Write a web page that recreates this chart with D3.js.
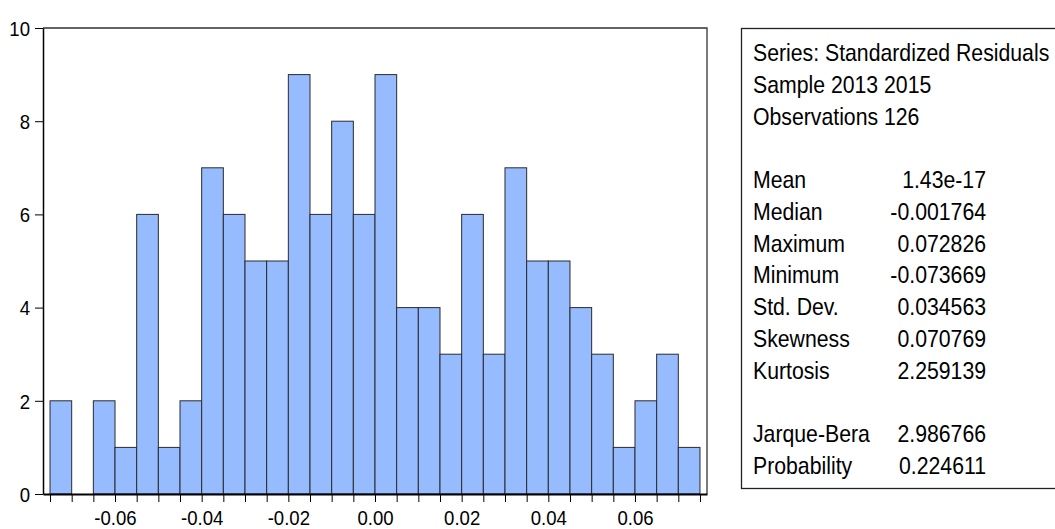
<!DOCTYPE html>
<html>
<head>
<meta charset="utf-8">
<script src="https://cdn.jsdelivr.net/npm/d3@7"></script>
<style>
  body { margin: 0; background: #fff; }
  svg { display: block; font-family: "Liberation Sans", Arial, sans-serif; }
</style>
</head>
<body>
<svg id="chart" width="1055" height="529"></svg>
<script>
// histogram bins (width 0.005, first edge -0.075)
const binStart = -0.075;
const binWidth = 0.005;
const counts = [2, 0, 2, 1, 6, 1, 2, 7, 6, 5, 5, 9, 6, 8, 6,
                9, 4, 4, 3, 6, 3, 7, 5, 5, 4, 3, 1, 2, 3, 1];

const xTickValues = [-0.06, -0.04, -0.02, 0, 0.02, 0.04, 0.06];
const xTickLabels = ["-0.06", "-0.04", "-0.02", "0.00", "0.02", "0.04", "0.06"];
const yTickValues = [0, 2, 4, 6, 8, 10];

// stats box text
const headerLines = ["Series: Standardized Residuals", "Sample 2013 2015", "Observations 126"];
const statLabels = ["Mean", "Median", "Maximum", "Minimum", "Std. Dev.", "Skewness", "Kurtosis",
                    "", "Jarque-Bera", "Probability"];
const statValues = ["1.43e-17", "-0.001764", "0.072826", "-0.073669", "0.034563", "0.070769", "2.259139",
                    "", "2.986766", "0.224611"];

const sx = 0.885; // horizontal squeeze of the glyphs
const fontName = '"Liberation Sans", Arial, sans-serif';

const svg = d3.select("#chart");

const plotLeft = 43, plotRight = 707, plotTop = 28, plotBottom = 494;

var x = d3.scaleLinear().domain([-0.07662, 0.07662]).range([plotLeft, plotRight]);
var y = d3.scaleLinear().domain([0, 10]).range([plotBottom, plotTop]);

const bins = counts.map((c, i) => ({ x0: binStart + i * binWidth, x1: binStart + (i + 1) * binWidth, n: c }));
const edges = [binStart].concat(bins.map(b => b.x1));

// bars
svg.append("g")
    .selectAll("rect")
    .data(bins.filter(b => b.n > 0))
    .enter().append("rect")
    .attr("x", d => x(d.x0))
    .attr("y", d => y(d.n))
    .attr("width", d => x(d.x1) - x(d.x0))
    .attr("height", d => y(0) - y(d.n))
    .attr("fill", "#96bbff")
    .attr("stroke", "#2b2b2b")
    .attr("stroke-width", 1);

// frame top / right
svg.append("path")
    .attr("d", `M${plotLeft},${plotTop}H${plotRight}V${plotBottom}`)
    .attr("fill", "none")
    .attr("stroke", "#333")
    .attr("stroke-width", 1.3);

// x axis
const gx = svg.append("g")
    .attr("transform", `translate(0,${plotBottom})`)
    .call(d3.axisBottom(x)
        .tickValues(edges)
        .tickSize(8)
        .tickSizeOuter(0)
        .tickFormat(d => {
            const k = xTickValues.findIndex(v => Math.abs(v - d) < 1e-9);
            return k >= 0 ? xTickLabels[k] : "";
        }))
    .attr("font-family", fontName)
    .attr("font-size", 21);
gx.select(".domain").attr("stroke", "#000").attr("stroke-width", 2);
gx.selectAll(".tick line").attr("stroke", "#000");
gx.selectAll(".tick text")
    .attr("y", 31).attr("dy", null)
    .attr("transform", `scale(${sx},1)`)
    .attr("fill", "#000");

// y axis
const gy = svg.append("g")
    .attr("transform", `translate(${plotLeft},0)`)
    .call(d3.axisLeft(y)
        .tickValues(yTickValues)
        .tickSize(8)
        .tickSizeOuter(0)
        .tickPadding(5)
        .tickFormat(d3.format("d")))
    .attr("font-family", fontName)
    .attr("font-size", 21);
gy.select(".domain").attr("stroke", "#000").attr("stroke-width", 1.5);
gy.selectAll(".tick line").attr("stroke", "#000");
gy.selectAll(".tick text")
    .attr("x", -13 / sx)
    .attr("dy", "0.35em")
    .attr("transform", `scale(${sx},1)`)
    .attr("fill", "#000");

// stats box
svg.append("rect")
    .attr("x", 741.5).attr("y", 28.5)
    .attr("width", 340).attr("height", 460)
    .attr("fill", "none")
    .attr("stroke", "#222")
    .attr("stroke-width", 1.3);

const lineH = 31.77, firstBase = 61, textX = 753, valueX = 986;

const box = svg.append("g").attr("font-size", 24).attr("fill", "#000");

box.selectAll("text.head")
    .data(headerLines)
    .enter().append("text")
    .attr("class", "head")
    .attr("transform", (d, i) => `translate(${textX},${firstBase + i * lineH}) scale(${sx},1)`)
    .text(d => d);

box.selectAll("text.lab")
    .data(statLabels)
    .enter().append("text")
    .attr("class", "lab")
    .attr("transform", (d, i) => `translate(${textX},${firstBase + (i + 4) * lineH}) scale(${sx},1)`)
    .text(d => d);

box.selectAll("text.val")
    .data(statValues)
    .enter().append("text")
    .attr("class", "val")
    .attr("text-anchor", "end")
    .attr("transform", (d, i) => `translate(${valueX},${firstBase + (i + 4) * lineH}) scale(${sx},1)`)
    .text(d => d);
</script>
</body>
</html>
